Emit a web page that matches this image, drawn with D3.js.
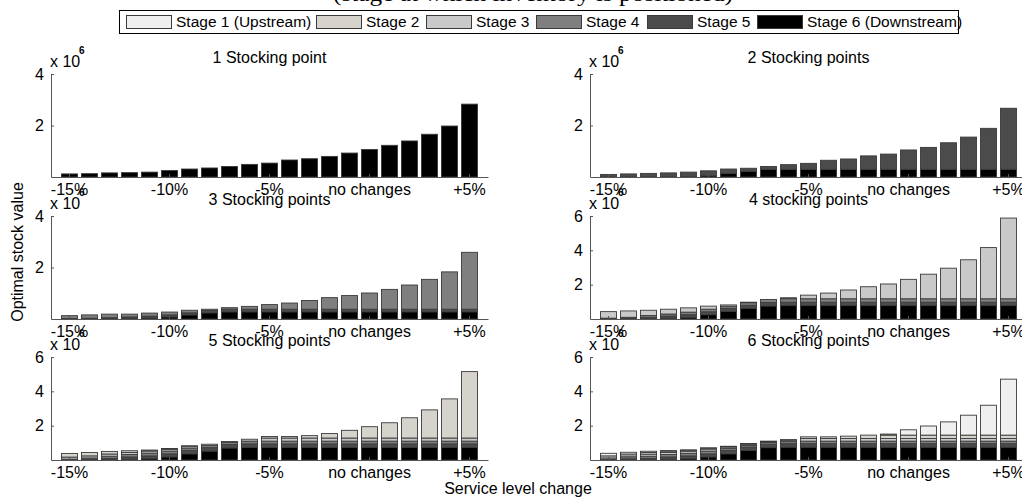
<!DOCTYPE html>
<html>
<head>
<meta charset="utf-8">
<script src="https://cdn.jsdelivr.net/npm/d3@7"></script>
<style>
  html, body { margin: 0; padding: 0; background: #fff; }
  svg { display: block; font-family: "Liberation Sans", Arial, Helvetica, sans-serif; }
</style>
</head>
<body>
<div id="chart"></div>
<script>
// -----------------------------
// Data (values in units of 10^6)
// -----------------------------
const levels = ["-15%", "-14%", "-13%", "-12%", "-11%", "-10%", "-9%", "-8%", "-7%", "-6%", "-5%",
  "-4%", "-3%", "-2%", "-1%", "0%", "+1%", "+2%", "+3%", "+4%", "+5%"];
const tickLevels = ["-15%", "-10%", "-5%", "0%", "+5%"];
const tickLabels = ["-15%", "-10%", "-5%", "no changes", "+5%"];

const stageNames = ["Stage 1 (Upstream)", "Stage 2", "Stage 3", "Stage 4", "Stage 5", "Stage 6 (Downstream)"];
const stageColors = ["#efefef", "#d6d2cc", "#c9c9c9", "#7f7f7f", "#4b4b4b", "#000000"];

const panelTitles = ["1 Stocking point", "2 Stocking points", "3 Stocking points",
  "4 stocking points", "5 Stocking points", "6 Stocking points"];
const panelMax = [4, 4, 4, 6, 6, 6];

// 1 stocking point
const p1_s6 = [0.12, 0.13, 0.16, 0.17, 0.19, 0.25, 0.31, 0.35, 0.41, 0.49, 0.54, 0.66, 0.71, 0.80, 0.93, 1.07, 1.23, 1.40, 1.66, 1.98, 2.83];

// 2 stocking points
const p2_s6 = [0, 0, 0, 0, 0.01, 0.05, 0.14, 0.22, 0.30, 0.30, 0.30, 0.30, 0.30, 0.30, 0.30, 0.30, 0.30, 0.30, 0.30, 0.30, 0.30];
const p2_s5 = [0.10, 0.12, 0.14, 0.16, 0.18, 0.19, 0.17, 0.12, 0.11, 0.18, 0.23, 0.35, 0.40, 0.52, 0.59, 0.75, 0.85, 1.03, 1.25, 1.59, 2.37];

// 3 stocking points
const p3_s6 = [0, 0, 0.01, 0.02, 0.04, 0.08, 0.16, 0.24, 0.28, 0.28, 0.28, 0.28, 0.28, 0.28, 0.28, 0.28, 0.28, 0.28, 0.28, 0.28, 0.28];
const p3_s5 = [0.02, 0.03, 0.04, 0.06, 0.07, 0.08, 0.08, 0.09, 0.10, 0.10, 0.10, 0.10, 0.10, 0.10, 0.10, 0.10, 0.10, 0.10, 0.10, 0.10, 0.10];
const p3_s4 = [0.11, 0.13, 0.14, 0.11, 0.12, 0.11, 0.10, 0.05, 0.06, 0.11, 0.18, 0.24, 0.34, 0.45, 0.53, 0.63, 0.77, 0.94, 1.16, 1.45, 2.21];

// 4 stocking points
const p4_s6 = [0, 0, 0.02, 0.05, 0.10, 0.25, 0.45, 0.62, 0.76, 0.78, 0.78, 0.78, 0.78, 0.78, 0.78, 0.78, 0.78, 0.78, 0.78, 0.78, 0.78];
const p4_s5 = [0, 0.05, 0.08, 0.12, 0.15, 0.17, 0.17, 0.18, 0.20, 0.20, 0.20, 0.20, 0.20, 0.20, 0.20, 0.20, 0.20, 0.20, 0.20, 0.20, 0.20];
const p4_s4 = [0.05, 0.05, 0.10, 0.12, 0.15, 0.15, 0.12, 0.15, 0.18, 0.20, 0.20, 0.20, 0.20, 0.20, 0.20, 0.20, 0.20, 0.20, 0.20, 0.20, 0.20];
const p4_s3 = [0.38, 0.37, 0.31, 0.28, 0.25, 0.18, 0.08, 0.03, 0, 0.06, 0.21, 0.33, 0.51, 0.70, 0.86, 1.13, 1.43, 1.78, 2.27, 2.98, 4.70];

// 5 stocking points
const p5_s6 = [0, 0, 0.02, 0.04, 0.08, 0.18, 0.36, 0.52, 0.70, 0.74, 0.74, 0.74, 0.74, 0.74, 0.74, 0.74, 0.74, 0.74, 0.74, 0.74, 0.74];
const p5_s5 = [0, 0.04, 0.08, 0.14, 0.16, 0.18, 0.20, 0.20, 0.20, 0.20, 0.20, 0.20, 0.20, 0.20, 0.20, 0.20, 0.20, 0.20, 0.20, 0.20, 0.20];
const p5_s4 = [0.05, 0.08, 0.12, 0.14, 0.16, 0.16, 0.14, 0.12, 0.12, 0.16, 0.16, 0.16, 0.16, 0.16, 0.16, 0.16, 0.16, 0.16, 0.16, 0.16, 0.16];
const p5_s3 = [0.12, 0.12, 0.13, 0.12, 0.12, 0.10, 0.10, 0.08, 0.06, 0.11, 0.18, 0.18, 0.18, 0.18, 0.18, 0.18, 0.18, 0.18, 0.18, 0.18, 0.18];
const p5_s2 = [0.21, 0.20, 0.15, 0.10, 0.06, 0.05, 0.03, 0, 0, 0, 0.09, 0.09, 0.14, 0.26, 0.45, 0.66, 0.89, 1.18, 1.64, 2.28, 3.87];

// 6 stocking points
const p6_s6 = [0, 0, 0.02, 0.04, 0.08, 0.18, 0.36, 0.55, 0.72, 0.75, 0.75, 0.75, 0.75, 0.75, 0.75, 0.75, 0.75, 0.75, 0.75, 0.75, 0.75];
const p6_s5 = [0, 0.05, 0.08, 0.14, 0.16, 0.18, 0.20, 0.20, 0.20, 0.20, 0.20, 0.20, 0.20, 0.20, 0.20, 0.20, 0.20, 0.20, 0.20, 0.20, 0.20];
const p6_s4 = [0.04, 0.08, 0.12, 0.14, 0.15, 0.16, 0.12, 0.10, 0.10, 0.12, 0.15, 0.15, 0.15, 0.15, 0.15, 0.15, 0.15, 0.15, 0.15, 0.15, 0.15];
const p6_s3 = [0.08, 0.10, 0.12, 0.12, 0.12, 0.12, 0.08, 0.07, 0.05, 0.08, 0.15, 0.15, 0.15, 0.15, 0.15, 0.15, 0.15, 0.15, 0.15, 0.15, 0.15];
const p6_s2 = [0.12, 0.12, 0.10, 0.08, 0.06, 0.05, 0.04, 0.04, 0.03, 0.04, 0.10, 0.10, 0.14, 0.20, 0.20, 0.20, 0.20, 0.20, 0.20, 0.20, 0.20];
const p6_s1 = [0.15, 0.10, 0.07, 0.03, 0.02, 0.02, 0, 0, 0, 0, 0, 0, 0, 0, 0.06, 0.31, 0.53, 0.77, 1.16, 1.74, 3.26];

// series per panel, listed bottom (stage 6) to top
const panelSeries = [
  [[6, p1_s6]],
  [[6, p2_s6], [5, p2_s5]],
  [[6, p3_s6], [5, p3_s5], [4, p3_s4]],
  [[6, p4_s6], [5, p4_s5], [4, p4_s4], [3, p4_s3]],
  [[6, p5_s6], [5, p5_s5], [4, p5_s4], [3, p5_s3], [2, p5_s2]],
  [[6, p6_s6], [5, p6_s5], [4, p6_s4], [3, p6_s3], [2, p6_s2], [1, p6_s1]]
];

// -----------------------------
// Layout
// -----------------------------
const width = 1022, height = 497;
const colX = [51, 590];
const rowY = [74, 216, 357];
const pw = 437, ph = 103;
const edge = "#3a3a3a";
const axisColor = "#555";

const svg = d3.select("#chart").append("svg")
  .attr("width", width)
  .attr("height", height);

// -----------------------------
// Header title (cut at the top) and legend
// -----------------------------
svg.append("text")
  .attr("x", 533)
  .attr("y", 1)
  .attr("text-anchor", "middle")
  .attr("textLength", 400)
  .attr("lengthAdjust", "spacingAndGlyphs")
  .style("font-family", "'Liberation Serif', 'Times New Roman', serif")
  .style("font-size", "22px")
  .text("(stage at which inventory is positioned)");

const legendX = [126, 316, 426, 536, 647, 757];
const legend = svg.append("g");
legend.append("rect")
  .attr("x", 119.5).attr("y", 10.5)
  .attr("width", 839).attr("height", 23)
  .attr("fill", "#fff")
  .attr("stroke", "#000");

stageNames.forEach((name, i) => {
  legend.append("rect")
    .attr("x", legendX[i] + 0.5).attr("y", 15.5)
    .attr("width", 45).attr("height", 13)
    .attr("fill", stageColors[i])
    .attr("stroke", edge);
  legend.append("text")
    .attr("x", legendX[i] + 50)
    .attr("y", 27)
    .style("font-size", "15.5px")
    .text(name);
});

// -----------------------------
// Panels
// -----------------------------
panelSeries.forEach((series, p) => {
  const ox = colX[p % 2];
  const oy = rowY[Math.floor(p / 2)];
  const g = svg.append("g").attr("transform", `translate(${ox},${oy})`);

  const x = d3.scaleBand()
    .domain(levels)
    .range([0, pw])
    .paddingInner(0.2)
    .paddingOuter(0.525);

  const y = d3.scaleLinear()
    .domain([0, panelMax[p]])
    .range([ph, 0]);

  const rows = levels.map((lv, i) => {
    const r = { level: lv };
    series.forEach(([stage, vals]) => { r["s" + stage] = vals[i]; });
    return r;
  });

  const keys = series.map(([stage]) => "s" + stage);
  const stacked = d3.stack().keys(keys)(rows);

  g.selectAll("g.layer")
    .data(stacked)
    .join("g")
    .attr("class", "layer")
    .attr("fill", d => stageColors[+d.key.slice(1) - 1])
    .selectAll("rect")
    .data(d => d.filter(s => s[1] - s[0] > 0))
    .join("rect")
    .attr("x", d => x(d.data.level))
    .attr("y", d => y(d[1]))
    .attr("width", x.bandwidth())
    .attr("height", d => y(d[0]) - y(d[1]))
    .attr("stroke", edge)
    .attr("stroke-width", 0.9);

  // axes
  const yTicks = panelMax[p] === 6 ? [2, 4, 6] : [2, 4];
  const yAxis = g.append("g")
    .call(d3.axisLeft(y).tickValues(yTicks).tickFormat(d3.format("d"))
      .tickSize(-3).tickSizeOuter(0).tickPadding(7));

  const xAxis = g.append("g")
    .attr("transform", `translate(0,${ph})`)
    .call(d3.axisBottom(x).tickValues(tickLevels)
      .tickFormat(d => tickLabels[tickLevels.indexOf(d)])
      .tickSize(-3).tickSizeOuter(0).tickPadding(7));

  [yAxis, xAxis].forEach(a => {
    a.select(".domain").attr("stroke", axisColor);
    a.selectAll(".tick line").attr("stroke", axisColor);
    a.selectAll("text")
      .attr("fill", "#000")
      .style("font-family", "'Liberation Sans', Arial, sans-serif")
      .style("font-size", "16px");
  });

  // title
  g.append("text")
    .attr("x", pw / 2)
    .attr("y", -11)
    .attr("text-anchor", "middle")
    .style("font-size", "16px")
    .text(panelTitles[p]);

  // exponent label
  g.append("text")
    .attr("x", -1)
    .attr("y", -7)
    .style("font-size", "16px")
    .text("x 10");
  g.append("text")
    .attr("x", 28)
    .attr("y", -20)
    .style("font-size", "10px")
    .style("font-weight", "bold")
    .text("6");
});

// -----------------------------
// Axis labels
// -----------------------------
svg.append("text")
  .attr("transform", "translate(23,252) rotate(-90)")
  .attr("text-anchor", "middle")
  .style("font-size", "16px")
  .text("Optimal stock value");

svg.append("text")
  .attr("x", 518)
  .attr("y", 494)
  .attr("text-anchor", "middle")
  .style("font-size", "16px")
  .text("Service level change");
</script>
</body>
</html>
